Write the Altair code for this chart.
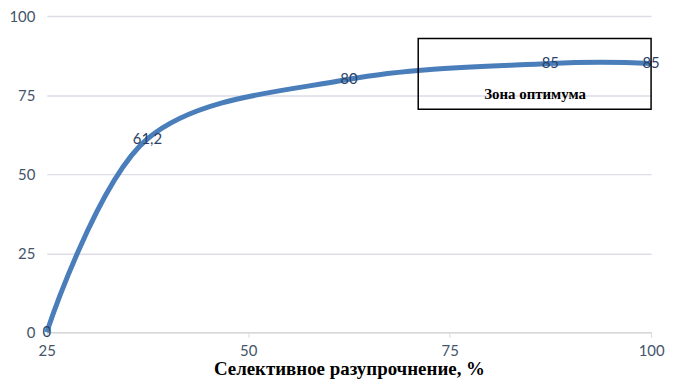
import altair as alt
import pandas as pd

x_vals = [25, 37.5, 62.5, 87.5, 100]
y_vals = [0, 61.2, 80, 85, 85]
labels = ["0", "61,2", "80", "85", "85"]

zone_x = [71.1]
zone_x2 = [100]
zone_y = [70.5]
zone_y2 = [92.9]
zone_text = ["Зона оптимума"]
zone_tx = [85.6]
zone_ty = [75.4]

df = pd.DataFrame({"x": x_vals, "y": y_vals, "label": labels})
zone = pd.DataFrame({"x": zone_x, "x2": zone_x2, "y": zone_y, "y2": zone_y2,
                     "t": zone_text, "tx": zone_tx, "ty": zone_ty})

xs = alt.Scale(domain=[25, 100], nice=False, zero=False)
ys = alt.Scale(domain=[0, 100], nice=False)

base = alt.Chart(df)

line = base.mark_line(interpolate="cardinal", tension=0, color="#4A7EBB",
                      strokeWidth=5).encode(
    x=alt.X("x:Q", scale=xs,
            axis=alt.Axis(values=[25, 50, 75, 100], title="Селективное разупрочнение, %",
                          titleFont="Liberation Serif", titleFontSize=19, titleFontWeight="bold",
                          titleColor="black", titlePadding=2,
                          labelFont="Lato", labelFontSize=15, labelColor="#44546A",
                          labelPadding=6, labelFlush=False, grid=False, domainColor="#D9D9D9",
                          tickColor="#D9D9D9", tickSize=5, domainWidth=1.5)),
    y=alt.Y("y:Q", scale=ys,
            axis=alt.Axis(values=[0, 25, 50, 75, 100], title=None, domain=False, ticks=False,
                          labelFont="Lato", labelFontSize=15, labelColor="#44546A",
                          labelFlush=False,
                          labelPadding=12, gridColor="#DDDDE8", gridWidth=1.5)),
)

text = base.mark_text(font="Lato", fontSize=15, color="#2B4266").encode(
    x=alt.X("x:Q", scale=xs), y=alt.Y("y:Q", scale=ys), text="label:N")

box = alt.Chart(zone).mark_rect(fill=None, stroke="black", strokeWidth=1.5).encode(
    x=alt.X("x:Q", scale=xs), x2="x2:Q", y=alt.Y("y:Q", scale=ys), y2="y2:Q")

ztext = alt.Chart(zone).mark_text(font="Liberation Serif", fontSize=15, fontWeight="bold",
                                  color="black").encode(
    x=alt.X("tx:Q", scale=xs), y=alt.Y("ty:Q", scale=ys), text="t:N")

chart = alt.layer(line, text, box, ztext).properties(
    width=608, height=318,
    autosize=alt.AutoSizeParams(type="none"),
    padding={"left": 39, "top": 7, "right": 14, "bottom": 50},
).configure_view(stroke=None)

chart.save("out.html", embed_options={"renderer": "svg", "actions": False})
